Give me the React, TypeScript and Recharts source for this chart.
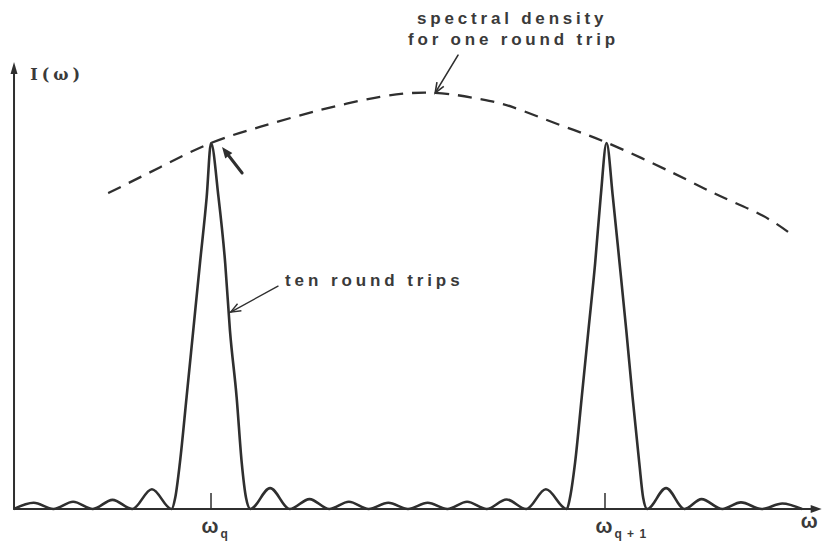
import { LineChart, Line, XAxis, YAxis, ReferenceLine, ReferenceDot } from "recharts"

// ten round trips: frequency in tenths of the mode spacing, normalised intensity
const freq = [
  5.0, 5.5, 6.0, 6.5, 7.0, 7.5, 8.0, 8.5, 9.0,
  9.09, 9.21, 9.38, 9.55, 9.72, 9.89, 10.0, 10.19, 10.36, 10.48, 10.65, 10.78, 10.89, 11.0,
  11.5, 12.0, 12.5, 13.0, 13.5, 14.0, 14.5, 15.0, 15.5, 16.0, 16.5, 17.0, 17.5, 18.0, 18.5, 19.03,
  19.11, 19.24, 19.41, 19.58, 19.75, 19.89, 20.04, 20.2, 20.37, 20.54, 20.7, 20.87, 20.97, 21.07,
  21.55, 22.02, 22.45, 22.98, 23.45, 23.98, 24.5, 25.0,
]
const intensity = [
  0, 0.017, 0, 0.02, 0, 0.025, 0, 0.054, 0,
  0.03, 0.126, 0.306, 0.489, 0.672, 0.852, 1.0, 0.852, 0.672, 0.489, 0.306, 0.126, 0.03, 0,
  0.057, 0, 0.027, 0, 0.02, 0, 0.017, 0, 0.017, 0, 0.02, 0, 0.026, 0, 0.054, 0,
  0.03, 0.126, 0.306, 0.489, 0.672, 0.852, 1.0, 0.852, 0.672, 0.489, 0.306, 0.126, 0.03, 0,
  0.057, 0, 0.027, 0, 0.018, 0, 0.015, 0,
]

// spectral density for one round trip (dashed envelope)
const envFreq = [7.39, 8.71, 10.0, 11.24, 12.59, 14.29, 15.69, 16.83, 17.66, 18.86, 20.0, 21.73, 22.92, 24.01, 24.82]
const envLevel = [0.863, 0.934, 1.0, 1.044, 1.085, 1.126, 1.137, 1.12, 1.098, 1.049, 1.003, 0.918, 0.855, 0.801, 0.743]

// marked modes on the frequency axis
const modeTicks = [10, 20]
const modeLabels = ["q", "q + 1"]

const spectrum = freq.map((x, i) => ({ x, y: intensity[i] }))
const envelope = envFreq.map((x, i) => ({ x, y: envLevel[i] }))

const INK = "#2f2f2f"
const TEXT = "#3a3a3a"
const SANS = "'Liberation Sans', Arial, Helvetica, sans-serif"

function head(x1: number, y1: number, x2: number, y2: number, len: number, half: number) {
  const a = Math.atan2(y2 - y1, x2 - x1)
  const bx = x2 - len * Math.cos(a)
  const by = y2 - len * Math.sin(a)
  const nx = -Math.sin(a) * half
  const ny = Math.cos(a) * half
  return { bx, by, l: `${bx + nx},${by + ny}`, r: `${bx - nx},${by - ny}`, tip: `${x2},${y2}` }
}

// line with an arrow head at its second point
const arrow = (width: number, len: number, half: number, filled: boolean) => (p: any) => {
  const { x1, y1, x2, y2 } = p
  const h = head(x1, y1, x2, y2, len, half)
  return (
    <g>
      <line
        x1={x1}
        y1={y1}
        x2={filled ? h.bx : x2}
        y2={filled ? h.by : y2}
        stroke={INK}
        strokeWidth={width}
        strokeLinecap="round"
      />
      {filled ? (
        <polygon points={`${h.l} ${h.tip} ${h.r}`} fill={INK} />
      ) : (
        <polyline points={`${h.l} ${h.tip} ${h.r}`} fill="none" stroke={INK} strokeWidth={width} />
      )}
    </g>
  )
}

const plain = (width: number) => (p: any) => (
  <line x1={p.x1} y1={p.y1} x2={p.x2} y2={p.y2} stroke={INK} strokeWidth={width} />
)

const words = (label: string, size: number, spacing: number, family = SANS) => (p: any) => (
  <text
    x={p.cx}
    y={p.cy}
    fill={TEXT}
    fontFamily={family}
    fontSize={size}
    fontWeight={700}
    letterSpacing={spacing}
  >
    {label}
  </text>
)

const omega = (sub: string) => (p: any) => (
  <text x={p.cx} y={p.cy} fill={TEXT} fontFamily={SANS} fontWeight={700} textAnchor="start">
    <tspan fontSize={20}>ω</tspan>
    <tspan fontSize={12} dy={5} dx={2} letterSpacing={1}>
      {sub}
    </tspan>
  </text>
)

export default function App() {
  return (
    <div style={{ position: "absolute", left: 0, top: 0, background: "#fff" }}>
      <LineChart width={823} height={542} margin={{ top: 4, right: 1, bottom: 4, left: 2 }}>
        <XAxis type="number" dataKey="x" domain={[4.695, 25.508]} allowDataOverflow hide />
        <YAxis type="number" domain={[-0.0792, 1.3798]} allowDataOverflow hide />

        <Line
          data={envelope}
          dataKey="y"
          type="natural"
          stroke={INK}
          strokeWidth={2.3}
          strokeDasharray="14 9"
          dot={false}
          isAnimationActive={false}
        />
        <Line
          data={spectrum}
          dataKey="y"
          type="monotone"
          stroke={INK}
          strokeWidth={2.6}
          dot={false}
          isAnimationActive={false}
        />

        {/* axes */}
        <ReferenceLine segment={[{ x: 5, y: 0 }, { x: 5, y: 1.221 }]} ifOverflow="visible" shape={arrow(2, 12, 3.5, true)} />
        <ReferenceLine segment={[{ x: 5, y: 0 }, { x: 25.5, y: 0 }]} ifOverflow="visible" shape={arrow(2, 11, 4, true)} />
        {modeTicks.map((t) => (
          <ReferenceLine key={t} segment={[{ x: t, y: 0 }, { x: t, y: 0.044 }]} ifOverflow="visible" shape={plain(1.5)} />
        ))}

        {/* annotation arrows */}
        <ReferenceLine segment={[{ x: 10.79, y: 0.918 }, { x: 10.28, y: 0.989 }]} ifOverflow="visible" shape={arrow(3, 11, 4.5, true)} />
        <ReferenceLine segment={[{ x: 16.27, y: 1.24 }, { x: 15.69, y: 1.137 }]} ifOverflow="visible" shape={arrow(1.6, 10, 4, false)} />
        <ReferenceLine segment={[{ x: 11.7, y: 0.609 }, { x: 10.5, y: 0.538 }]} ifOverflow="visible" shape={arrow(1.4, 10, 4, false)} />

        {/* texts */}
        <ReferenceDot x={15.23} y={1.324} ifOverflow="visible" shape={words("spectral density", 17, 3.8)} />
        <ReferenceDot x={15.0} y={1.268} ifOverflow="visible" shape={words("for one round trip", 17, 3.8)} />
        <ReferenceDot x={11.88} y={0.609} ifOverflow="visible" shape={words("ten round trips", 17, 3.9)} />
        <ReferenceDot x={5.41} y={1.172} ifOverflow="visible" shape={words("I(ω)", 16, 4, "'DejaVu Serif', serif")} />
        <ReferenceDot x={24.97} y={-0.052} ifOverflow="visible" shape={words("ω", 20, 0)} />
        {modeTicks.map((t, i) => (
          <ReferenceDot key={t} x={t - 0.24} y={-0.066} ifOverflow="visible" shape={omega(modeLabels[i])} />
        ))}
      </LineChart>
    </div>
  )
}
